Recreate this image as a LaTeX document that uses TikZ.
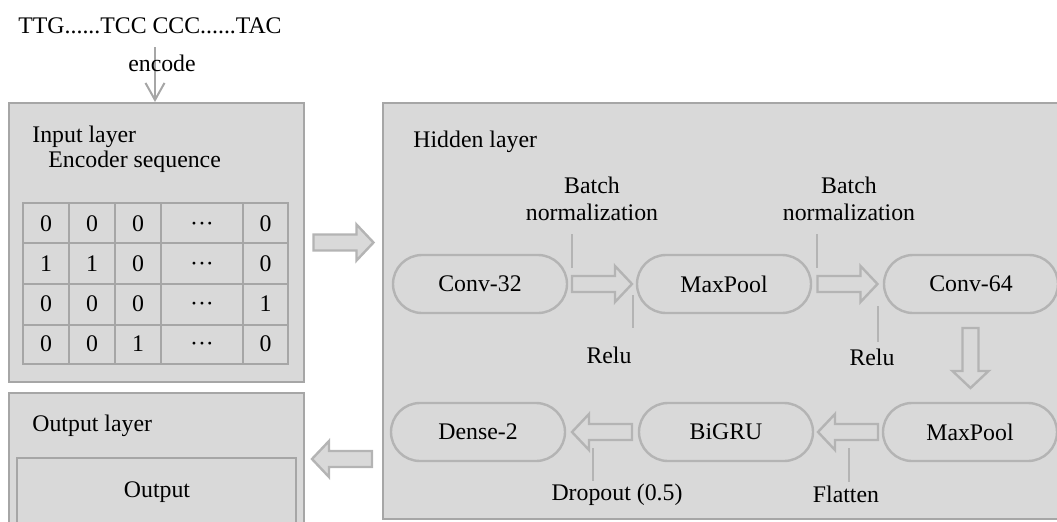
\documentclass[tikz,border=0pt]{standalone}
\usepackage{fontspec}
\setmainfont{Liberation Serif}
\usetikzlibrary{shapes.misc,arrows.meta,calc}

\definecolor{panel}{HTML}{D9D9D9}
\definecolor{frame}{HTML}{A6A6A6}
\definecolor{pillline}{HTML}{B4B4B4}

\tikzset{
  txt/.style={font=\fontsize{11.9pt}{13.5pt}\selectfont, inner sep=0pt},
  layer/.style={fill=panel, draw=frame, line width=1pt, inner sep=0pt},
  pill/.style={txt, rounded rectangle, draw=pillline, line width=1.2pt,
    minimum width=87pt, minimum height=29pt},
  tick/.style={draw=pillline, line width=1.2pt},
  grid line/.style={draw=frame, line width=1pt},
  fat arrow/.pic={
    \draw[fill=panel, draw=pillline, line width=1.2pt]
      (-30,-8) -- (13,-8) -- (13,-18) -- (30,0) -- (13,18) -- (13,8) -- (-30,8) -- cycle;
  },
}

\begin{document}
\begin{tikzpicture}[x=0.5pt,y=-0.5pt]
  \clip (0,0) rectangle (1057,521);

  % panels
  \node[layer, minimum width=147.5pt, minimum height=139.5pt] (inlayer) at (156.5,242.5) {};
  \node[layer, minimum width=147.5pt, minimum height=103.5pt] (outlayer) at (156.5,496.5) {};
  \node[layer, minimum width=139.5pt, minimum height=71pt] (outbox) at (156.5,529) {};
  \node[layer, minimum width=353.5pt, minimum height=208pt] (hidden) at (736.5,311) {};

  % sequence -> encoder
  \node[txt, anchor=base] (seq) at (150,33) {TTG......TCC CCC......TAC};
  \coordinate (enc) at (155,47);
  \draw[frame, line width=1pt, -{Straight Barb[length=8.5pt,width=9.5pt]}] (enc) -- (enc |- inlayer.north);
  \node[txt, anchor=base] (encode) at (162,71) {encode};

  % input layer
  \node[txt, anchor=base west] (intitle) at (32,142) {Input layer};
  \node[txt, anchor=base west] (insub) at (48,167) {Encoder sequence};
  \draw[grid line] (23,203) rectangle (288,364);
  \foreach \x in {69,115,161,243} \draw[grid line] (\x,203) -- (\x,364);
  \foreach \y in {243,284,325} \draw[grid line] (23,\y) -- (288,\y);
  % cell values, row by row (on a common baseline)
  \foreach \a/\b/\c/\d [count=\r] in {0/0/0/0, 1/1/0/0, 0/0/0/1, 0/0/1/0} {
    \pgfmathsetmacro\yy{203+40.25*\r-12.1}
    \node[txt, anchor=base] (c\r a) at (46,\yy) {\a};
    \node[txt, anchor=base] (c\r b) at (92,\yy) {\b};
    \node[txt, anchor=base] (c\r c) at (138,\yy) {\c};
    \node[txt, anchor=base] (c\r d) at (202,\yy) {···};
    \node[txt, anchor=base] (c\r e) at (265.5,\yy) {\d};
  }

  % output layer
  \node[txt, anchor=base west] (outtitle) at (32,431) {Output layer};
  \node[txt, anchor=base] (out) at (157,497) {Output};

  % hidden layer
  \node[txt, anchor=base west] (hidtitle) at (413,147) {Hidden layer};
  \node[pill] (conv32) at (480,284) {Conv-32};
  \node[pill] (pool1) at (724,284) {MaxPool};
  \node[pill] (conv64) at (971,284) {Conv-64};
  \node[pill] (pool2) at (970,432) {MaxPool};
  \node[pill] (bigru) at (726,432) {BiGRU};
  \node[pill] (dense) at (478,432) {Dense-2};

  % block arrows
  \pic at ($(inlayer.east)!0.5!(hidden.west |- inlayer.east)$) {fat arrow};
  \pic[rotate=180] at (342,459) {fat arrow};
  \pic at ($(conv32.east)!0.5!(pool1.west)$) {fat arrow};
  \pic at ($(pool1.east)!0.5!(conv64.west)$) {fat arrow};
  \pic[rotate=-90] at ($(conv64.south)!0.5!(pool2.north)$) {fat arrow};
  \pic[rotate=180] at ($(pool2.west)!0.5!(bigru.east)$) {fat arrow};
  \pic[rotate=180] at ($(bigru.west)!0.5!(dense.east)$) {fat arrow};

  % operation labels
  \node[txt, align=center] (bn1) at (592,199) {Batch\\normalization};
  \node[txt, align=center] (bn2) at (849,199) {Batch\\normalization};
  \node[txt, anchor=base] (relu1) at (609,363) {Relu};
  \node[txt, anchor=base] (relu2) at (872,365) {Relu};
  \node[txt, anchor=base] (drop) at (617,500) {Dropout (0.5)};
  \node[txt, anchor=base] (flat) at (846,502) {Flatten};
  \draw[tick] (572,234) -- (572,268);
  \draw[tick] (817,234) -- (817,268);
  \draw[tick] (633,295) -- (633,328);
  \draw[tick] (878,306) -- (878,342);
  \draw[tick] (593,448) -- (593,481);
  \draw[tick] (849,448) -- (849,482);
\end{tikzpicture}
\end{document}
